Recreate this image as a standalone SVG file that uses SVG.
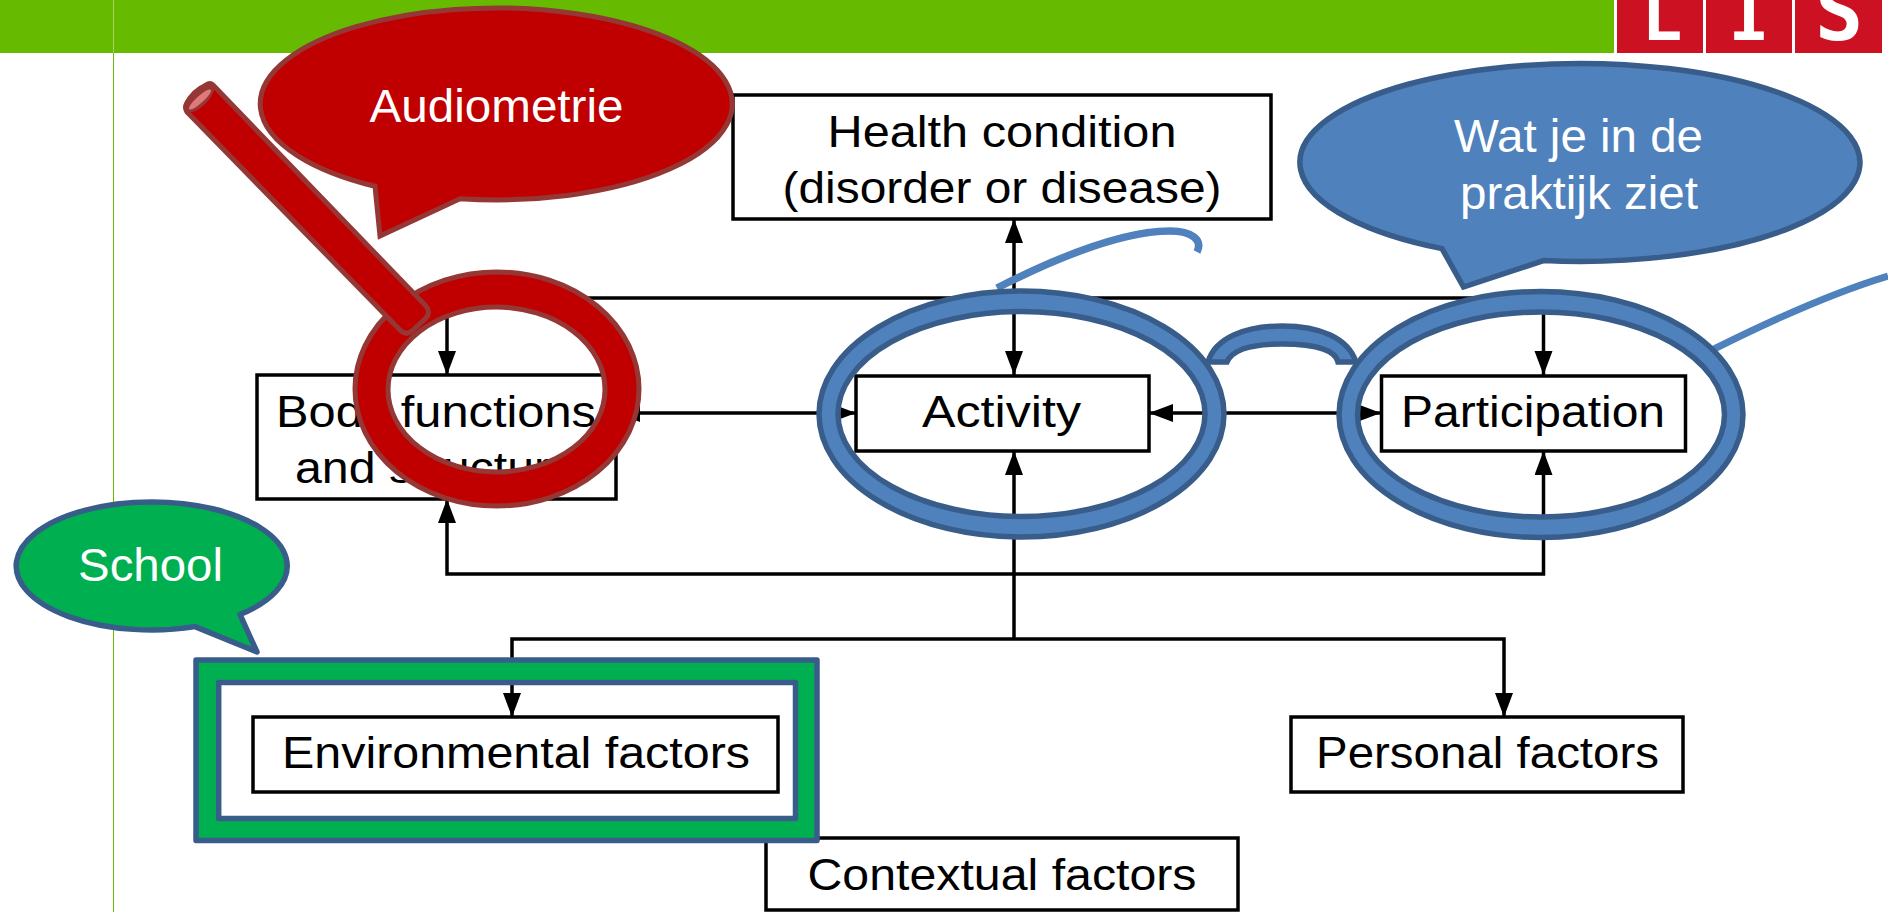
<svg xmlns="http://www.w3.org/2000/svg" width="1888" height="912" viewBox="0 0 1888 912">
<style>
.box{fill:#fff;stroke:#000;stroke-width:3.5}
.t{font-family:"Liberation Sans",Arial,sans-serif;font-size:45px;fill:#000;text-anchor:middle}
.w{font-family:"Liberation Sans",Arial,sans-serif;font-size:47px;fill:#fff;text-anchor:middle}
.c{fill:none;stroke:#000;stroke-width:3.5}
.blue{fill:#4f81bd;stroke:#385d8a;stroke-width:5.500}
.red{fill:#c00000;stroke:#953735;stroke-width:5}
.green{fill:#00b050;stroke:#385d8a;stroke-width:5.500;stroke-linejoin:round}
.logo{fill:#cc1122}
.lt{font-family:"DejaVu Sans Mono",monospace;font-weight:700;font-size:68px;fill:#fff;text-anchor:middle}
.ls{font-size:80px}
</style>
<defs>
<marker id="a" markerUnits="userSpaceOnUse" markerWidth="26" markerHeight="20" refX="24" refY="9" orient="auto-start-reverse"><path d="M0,0L24,9L0,18Z" fill="#000"/></marker>
</defs>
<rect width="1888" height="912" fill="#fff"/>
<g id="header">
<rect x="0" y="0" width="1614" height="53" fill="#66bb00"/>
<line x1="113.500" y1="53" x2="113.500" y2="912" stroke="#66bb00" stroke-width="1"/>
<line x1="113.500" y1="0" x2="113.500" y2="53" stroke="#a3d566" stroke-width="1"/>
<rect class="logo" x="1617" y="0" width="86" height="53"/>
<rect class="logo" x="1706" y="0" width="86" height="53"/>
<rect class="logo" x="1795" y="0" width="87" height="53"/>
<text class="lt" x="1662" y="39.500">L</text>
<text class="lt" x="1749" y="39.500">I</text>
<text class="lt ls" x="1839" y="39.500">S</text>
</g>
<g id="contextual"><rect class="box" x="766" y="838" width="472" height="72"/><text class="t" x="1002" y="890" textLength="389" lengthAdjust="spacingAndGlyphs">Contextual factors</text></g>
<g id="health"><rect class="box" x="733" y="95" width="538" height="124"/><text class="t" x="1002" y="147" textLength="349" lengthAdjust="spacingAndGlyphs">Health condition</text><text class="t" x="1002" y="203" textLength="439" lengthAdjust="spacingAndGlyphs">(disorder or disease)</text></g>
<g id="body"><rect class="box" x="257" y="375" width="359" height="124"/><text class="t" x="436" y="427" textLength="320" lengthAdjust="spacingAndGlyphs">Body functions</text><text class="t" x="436" y="483" textLength="282" lengthAdjust="spacingAndGlyphs">and structure</text></g>
<g id="activity"><rect class="box" x="856" y="376" width="293" height="75"/><text class="t" x="1001.500" y="427" textLength="159" lengthAdjust="spacingAndGlyphs">Activity</text></g>
<g id="participation"><rect class="box" x="1381.500" y="376" width="304" height="75"/><text class="t" x="1533" y="427" textLength="264" lengthAdjust="spacingAndGlyphs">Participation</text></g>
<g id="environmental"><rect class="box" x="253" y="717" width="525" height="75"/><text class="t" x="516" y="768" textLength="468" lengthAdjust="spacingAndGlyphs">Environmental factors</text></g>
<g id="personal"><rect class="box" x="1291" y="717" width="392" height="75"/><text class="t" x="1487.500" y="768" textLength="343" lengthAdjust="spacingAndGlyphs">Personal factors</text></g>
<g id="connectors">
<path class="c" d="M447,298H1543.500"/>
<path class="c" d="M447,298V375" marker-end="url(#a)"/>
<path class="c" d="M1543.500,298V375" marker-end="url(#a)"/>
<path class="c" d="M1014,219V375" marker-start="url(#a)" marker-end="url(#a)"/>
<path class="c" d="M616,413H856" marker-start="url(#a)" marker-end="url(#a)"/>
<path class="c" d="M1149,413H1381" marker-start="url(#a)" marker-end="url(#a)"/>
<path class="c" d="M447,499V574H1543.500V451" marker-start="url(#a)" marker-end="url(#a)"/>
<path class="c" d="M1014,451V639" marker-start="url(#a)"/>
<path class="c" d="M512,717V639H1504V717" marker-start="url(#a)" marker-end="url(#a)"/>
</g>
<g id="school-frame">
<path class="green" fill-rule="evenodd" d="M196,660H817V840.500H196ZM218.700,682.500V818.500H795.500V682.500Z"/>
</g>
<g id="school-bubble">
<path class="green" d="M195,626.600A135.500,64 0 1 1 240,614.500L257,652Z"/>
<text class="w" x="150.500" y="581" textLength="145" lengthAdjust="spacingAndGlyphs">School</text>
</g>
<g id="audiometrie-bubble">
<path class="red" d="M460,198.800A236,96 0 1 0 375,186.300L380,236Z"/>
<text class="w" x="496.500" y="122" textLength="254" lengthAdjust="spacingAndGlyphs">Audiometrie</text>
</g>
<g id="magnifier">
<path class="red" fill-rule="evenodd" d="M355,389a142,117 0 1 0 284,0a142,117 0 1 0 -284,0ZM388,389.500a108.500,82.500 0 1 1 217,0a108.500,82.500 0 1 1 -217,0Z"/>
<path class="red" stroke-linejoin="round" d="M187,112L400,330Q406,336 412,331L426,318Q431,312 426,306L213,85Q210,82 206,85L190,99Q183,106 187,112Z"/>
<ellipse cx="199" cy="97.500" rx="19" ry="9" transform="rotate(-44 199 97.500)" fill="#953735"/>
<ellipse cx="200" cy="99.500" rx="14.500" ry="3.500" transform="rotate(-42 200 99.500)" fill="#e07a7a"/>
</g>
<g id="bril">
<path d="M997,288C1060,256 1125,231 1170,231C1192,231 1203,240 1197,252" fill="none" stroke="#4f81bd" stroke-width="7.500"/>
<path d="M1714,349C1780,316 1835,292 1888,276" fill="none" stroke="#4f81bd" stroke-width="7"/>
<path class="blue" d="M1208,362C1215,338 1245,326 1282,326C1320,326 1348,338 1356,362H1338C1336,352 1320,344 1282,344C1250,344 1232,350 1227,362Z"/>
<path class="blue" fill-rule="evenodd" d="M819,414a202.500,123 0 1 0 405,0a202.500,123 0 1 0 -405,0ZM838,414a183.500,102.500 0 1 1 367,0a183.500,102.500 0 1 1 -367,0Z"/>
<path class="blue" fill-rule="evenodd" d="M1339,414.500a202,123 0 1 0 404,0a202,123 0 1 0 -404,0ZM1357.500,414.500a183.500,102.500 0 1 1 367,0a183.500,102.500 0 1 1 -367,0Z"/>
</g>
<g id="praktijk-bubble">
<path class="blue" d="M1543.500,260.600A280,99 0 1 0 1442,248.600L1463.500,287Z"/>
<text class="w" x="1578.500" y="152" textLength="249" lengthAdjust="spacingAndGlyphs">Wat je in de</text>
<text class="w" x="1579" y="208.500" textLength="238" lengthAdjust="spacingAndGlyphs">praktijk ziet</text>
</g>
</svg>
